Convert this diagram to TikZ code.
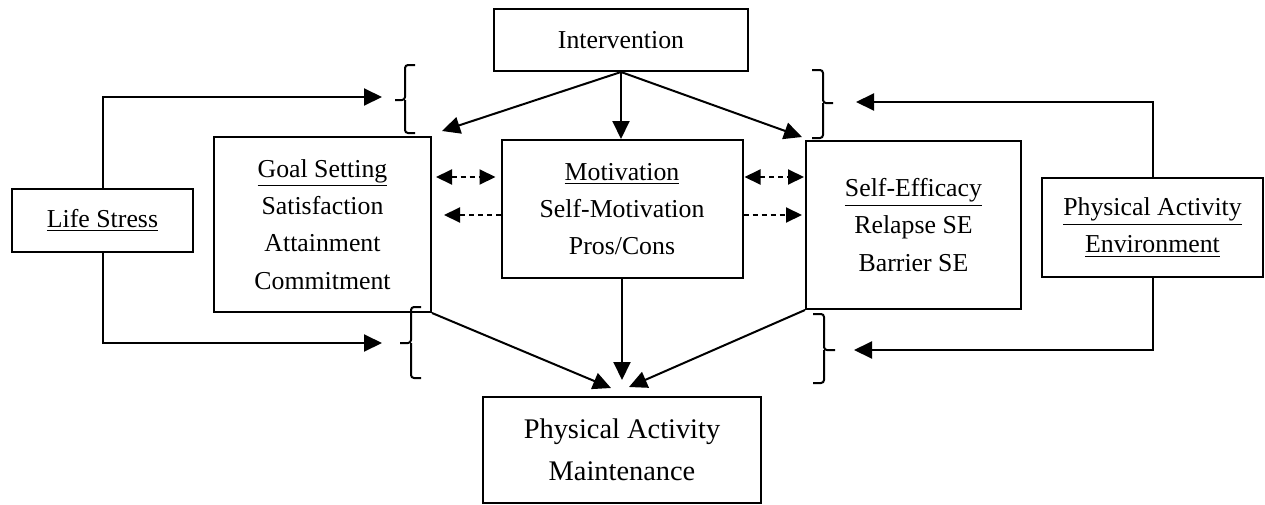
\documentclass[tikz,border=0pt]{standalone}
\usepackage{fontspec}
\setmainfont{Liberation Serif}
\usetikzlibrary{arrows.meta}
\begin{document}
\begin{tikzpicture}[x=0.5pt,y=-0.5pt,
  box/.style={draw,line width=1pt,inner sep=0pt,align=center,
    font=\fontsize{12.9}{18.6}\selectfont},
  arr/.style={line width=1pt,-{Triangle[length=9pt,width=8.5pt]}},
  darr/.style={line width=1pt,dash pattern=on 2.5pt off 2pt,{Triangle[length=8pt,width=7.5pt]}-{Triangle[length=8pt,width=7.5pt]}},
  sarr/.style={line width=1pt,dash pattern=on 2.5pt off 2pt,-{Triangle[length=8pt,width=7.5pt]}},
  bracepath/.style={line width=1pt,rounded corners=1.5pt}]
\useasboundingbox (0,0) rectangle (1265,504);
% boxes
\node[box,minimum width=127pt,minimum height=31pt] (intv) at (621,40) {Intervention};
\node[box,minimum width=108.5pt,minimum height=87.5pt] (goal) at (322.5,224.5)
  {\underline{Goal Setting}\\Satisfaction\\Attainment\\Commitment};
\node[box,minimum width=120.5pt,minimum height=69pt] (motiv) at (622,209)
  {\underline{Motivation}\\Self-Motivation\\Pros/Cons};
\node[box,minimum width=107.5pt,minimum height=84pt] (seff) at (913.5,225)
  {\underline{Self-Efficacy}\\Relapse SE\\Barrier SE};
\node[box,minimum width=90.5pt,minimum height=31.5pt] (life) at (102.5,220.5)
  {\underline{Life Stress}};
\node[box,minimum width=110.5pt,minimum height=49.5pt] (env) at (1152.5,227.5)
  {\underline{Physical Activity}\\\underline{Environment}};
\node[box,minimum width=139pt,minimum height=53pt,font=\fontsize{14.2}{21}\selectfont] (pam) at (622,450)
  {Physical Activity\\Maintenance};
% coordinates
\coordinate (tlA) at (382,97);
\coordinate (blA) at (382,343);
\coordinate (trA) at (856,102);
\coordinate (brA) at (854,350);
\coordinate (ig) at (442,131);
\coordinate (is) at (802,137);
\coordinate (r1) at (0,177);
\coordinate (r2) at (0,215);
\coordinate (p1) at (611,388);
\coordinate (p2) at (629,387);
\coordinate (pm) at (0,380);
% braces
\draw[bracepath] (415,65) -- (405,65) -- (405,100) -- (395,100) (405,100) -- (405,133) -- (415,133);
\draw[bracepath] (812,70) -- (823,70) -- (823,103) -- (833,103) (823,103) -- (823,138) -- (812,138);
\draw[bracepath] (421,307) -- (411,307) -- (411,343) -- (400,343) (411,343) -- (411,378) -- (421,378);
\draw[bracepath] (813,314) -- (824,314) -- (824,350) -- (835,350) (824,350) -- (824,383) -- (813,383);
% connectors
\draw[arr] (life.north) |- (tlA);
\draw[arr] (life.south) |- (blA);
\draw[arr] (env.north) |- (trA);
\draw[arr] (env.south) |- (brA);
\draw[arr] (intv.south) -- (ig);
\draw[arr] (intv.south) -- (intv.south |- motiv.north);
\draw[arr] (intv.south) -- (is);
\draw[darr,shorten <=2pt,shorten >=2.5pt] (goal.east |- r1) -- (motiv.west |- r1);
\draw[sarr,shorten >=6pt] (motiv.west |- r2) -- (goal.east |- r2);
\draw[darr,shorten <=0.5pt,shorten >=0.5pt] (motiv.east |- r1) -- (seff.west |- r1);
\draw[sarr,shorten >=1.5pt] (motiv.east |- r2) -- (seff.west |- r2);
\draw[arr] (goal.south east) -- (p1);
\draw[arr] (motiv.south) -- (motiv.south |- pm);
\draw[arr] (seff.south west) -- (p2);
\end{tikzpicture}
\end{document}
